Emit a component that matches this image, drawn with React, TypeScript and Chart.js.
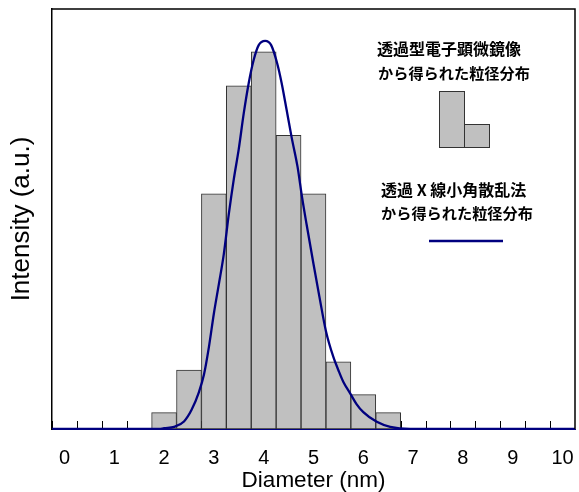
import React, { useEffect, useRef } from "react";
import { Chart, registerables } from "chart.js";

Chart.register(...registerables);

// Histogram (TEM): bin centres in nm and relative counts
const binCenters = [2.0, 2.5, 3.0, 3.5, 4.0, 4.5, 5.0, 5.5, 6.0, 6.5];
const temCounts = [3.9, 14.0, 56.0, 81.7, 89.8, 69.9, 56.0, 16.0, 8.2, 3.9];

// SAXS size distribution curve
const saxsDiameters = [
  -0.25, 1.9, 2.0, 2.2, 2.4, 2.55, 2.7, 2.8, 2.9, 3.0,
  3.1, 3.2, 3.3, 3.4, 3.5, 3.6, 3.7, 3.8, 3.9, 4.03,
  4.15, 4.27, 4.36, 4.46, 4.56, 4.68, 4.77, 4.86, 5.0, 5.12,
  5.25, 5.4, 5.5, 5.6, 5.73, 5.86, 6.0, 6.27, 6.54, 6.94,
  10.25,
];
const saxsIntensity = [
  0, 0, 0.2, 0.5, 1.8, 4.5, 8.8, 12.9, 19.5, 27.5,
  34.5, 41.7, 51.2, 59.5, 66.7, 75.2, 82.4, 87.9, 91.4, 92.4,
  91.4, 87.1, 82.4, 76.0, 69.5, 62.4, 55.2, 48.8, 39.3, 31.4,
  23.3, 17.1, 14.0, 11.2, 8.6, 6.0, 4.0, 1.7, 0.5, 0,
  0,
];

const xTickLabels = [0, 1, 2, 3, 4, 5, 6, 7, 8, 9, 10];
const xMin = -0.25;
const xMax = 10.25;

const legendTem = ["透過型電子顕微鏡像", "から得られた粒径分布"];
const legendSaxs = ["透過 X 線小角散乱法", "から得られた粒径分布"];

const NAVY = "#00007f";
const BAR_FILL = "#c0c0c0";
const BAR_EDGE = "#333333";
const SANS = "'Liberation Sans', Arial, sans-serif";
const CJK = "'Noto Sans CJK JP', sans-serif";

const framePlugin = {
  id: "frameAndLegend",
  beforeDatasetsDraw(chart: any) {
    const { ctx, chartArea, scales } = chart;
    const xs = scales.x;
    ctx.save();
    ctx.strokeStyle = "#000";
    ctx.lineWidth = 1;
    // inward tick marks between integer labels
    for (let k = 0; k <= 20; k++) {
      const v = xMin + 0.5 * k;
      const px = Math.round(xs.getPixelForValue(v)) + 0.5;
      ctx.beginPath();
      ctx.moveTo(px, chartArea.bottom);
      ctx.lineTo(px, chartArea.bottom - 8);
      ctx.stroke();
    }
    ctx.restore();
  },
  afterDraw(chart: any) {
    const { ctx, chartArea } = chart;
    ctx.save();
    // frame top/right
    ctx.strokeStyle = "#000";
    ctx.lineWidth = 1.5;
    ctx.beginPath();
    ctx.moveTo(chartArea.left, chartArea.top);
    ctx.lineTo(chartArea.right, chartArea.top);
    ctx.lineTo(chartArea.right, chartArea.bottom);
    ctx.stroke();

    // legend text
    ctx.fillStyle = "#000";
    ctx.textBaseline = "middle";
    ctx.textAlign = "left";
    ctx.font = `bold 16px ${CJK}`;
    ctx.fillText(legendTem[0], 377, 49);
    ctx.font = `bold 15.2px ${CJK}`;
    ctx.fillText(legendTem[1], 378, 73);
    ctx.font = `bold 16px ${CJK}`;
    ctx.fillText(legendSaxs[0], 381, 190);
    ctx.font = `bold 15.2px ${CJK}`;
    ctx.fillText(legendSaxs[1], 381, 213);

    // legend bars
    ctx.fillStyle = BAR_FILL;
    ctx.strokeStyle = BAR_EDGE;
    ctx.lineWidth = 1;
    ctx.fillRect(439, 91, 26, 57);
    ctx.strokeRect(439.5, 91.5, 25, 56);
    ctx.fillRect(465, 124, 25, 24);
    ctx.strokeRect(464.5, 124.5, 25, 23);

    // legend line
    ctx.strokeStyle = NAVY;
    ctx.lineWidth = 2.5;
    ctx.beginPath();
    ctx.moveTo(429, 241);
    ctx.lineTo(503, 241);
    ctx.stroke();
    ctx.restore();
  },
};

export default function App() {
  const ref = useRef<HTMLCanvasElement | null>(null);
  useEffect(() => {
    if (!ref.current) return;
    const chart = new Chart(ref.current, {
      type: "bar",
      data: {
        datasets: [
          {
            type: "line",
            label: "SAXS",
            data: saxsDiameters.map((d, i) => ({ x: d, y: saxsIntensity[i] })),
            borderColor: NAVY,
            borderWidth: 2.3,
            pointRadius: 0,
            cubicInterpolationMode: "monotone",
            fill: false,
            clip: 0,
            order: 0,
          } as any,
          {
            type: "bar",
            label: "TEM",
            data: binCenters.map((c, i) => ({ x: c, y: temCounts[i] })),
            backgroundColor: BAR_FILL,
            borderColor: BAR_EDGE,
            borderWidth: 1,
            borderSkipped: false,
            barPercentage: 1,
            categoryPercentage: 1,
            order: 1,
          } as any,
        ],
      },
      options: {
        animation: false,
        responsive: false,
        devicePixelRatio: 1,
        layout: { padding: { top: 9, right: 4, left: 0, bottom: 0 } },
        plugins: {
          legend: { display: false },
          tooltip: { enabled: false },
        },
        scales: {
          x: {
            type: "linear",
            min: xMin,
            max: xMax,
            offset: false,
            grid: { display: false, offset: false, drawTicks: false },
            border: { display: true, color: NAVY, width: 1 },
            afterBuildTicks: (scale: any) => {
              scale.ticks = xTickLabels.map((v) => ({ value: v }));
            },
            afterFit: (scale: any) => {
              scale.height = 63;
              scale.paddingLeft = 0;
              scale.paddingRight = 0;
            },
            ticks: {
              color: "#000",
              font: { family: SANS, size: 20, lineHeight: 1.2 },
              padding: 17,
              maxRotation: 0,
              autoSkip: false,
              callback: (v: any) => String(v),
            },
            title: {
              display: true,
              text: "Diameter (nm)",
              color: "#000",
              font: { family: SANS, size: 22.5, lineHeight: 1 },
              padding: { top: 0, bottom: 0 },
            },
          },
          y: {
            type: "linear",
            min: 0,
            max: 100,
            grid: { display: false, drawTicks: false },
            border: { display: true, color: "#000", width: 1.5 },
            ticks: { display: false },
            afterFit: (scale: any) => {
              scale.width = 52;
              scale.paddingTop = 0;
              scale.paddingBottom = 0;
            },
            title: {
              display: true,
              text: "Intensity (a.u.)",
              color: "#000",
              font: { family: SANS, size: 26, lineHeight: 1 },
              padding: { top: 9, bottom: 0 },
            },
          },
        },
      },
      plugins: [framePlugin],
    });
    return () => chart.destroy();
  }, []);

  return (
    <div style={{ position: "absolute", left: 0, top: 0, width: 579, height: 492, background: "#fff" }}>
      <canvas ref={ref} width={579} height={492} style={{ display: "block" }} />
    </div>
  );
}
